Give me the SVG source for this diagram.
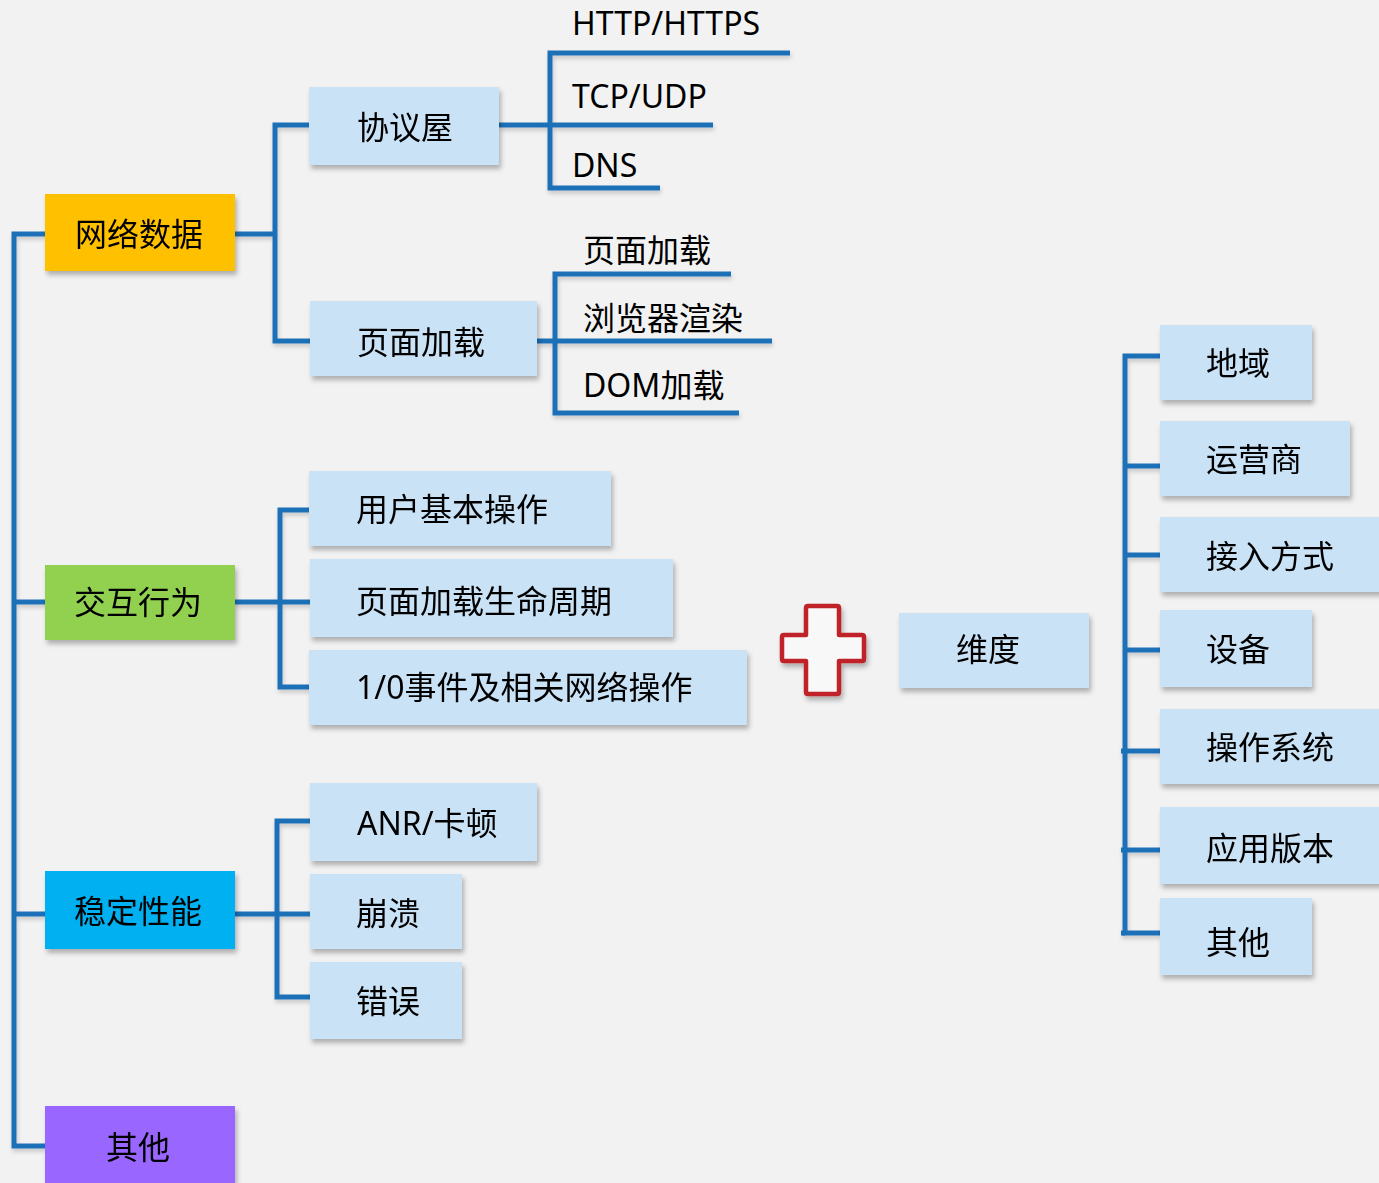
<svg xmlns="http://www.w3.org/2000/svg" width="1379" height="1183" viewBox="0 0 1379 1183">
<defs>
<filter id="sh" x="-10%" y="-20%" width="130%" height="150%">
<feDropShadow dx="2" dy="4" stdDeviation="2.5" flood-color="#000" flood-opacity="0.28"/>
</filter>
<filter id="lsh" x="-5%" y="-5%" width="110%" height="110%">
<feDropShadow dx="1" dy="3" stdDeviation="2" flood-color="#000" flood-opacity="0.18"/>
</filter>
<style>
.t{font-family:"Noto Sans","Noto Sans CJK SC",sans-serif;font-size:32px;fill:#000}
.sub{fill:#c9e2f6}
.ln{fill:none;stroke:#1e70b8;stroke-width:5;stroke-linejoin:miter}
</style>
</defs>
<rect x="0" y="0" width="1379" height="1183" fill="#f2f2f2"/>

<g id="connectors" class="ln" filter="url(#lsh)">
<path d="M45 234 H14 V1146 H45"/>
<path d="M14 602 H45"/>
<path d="M14 914 H45"/>
<path d="M235 234 H275"/>
<path d="M309 125 H275 V341 H310"/>
<path d="M499 125 H550"/>
<path d="M790 53 H550 V188 H660"/>
<path d="M550 125 H713"/>
<path d="M537 341 H555"/>
<path d="M731 274 H555 V413 H739"/>
<path d="M555 341 H772"/>
<path d="M235 602 H280"/>
<path d="M309 510 H280 V687 H309"/>
<path d="M280 602 H310"/>
<path d="M235 914 H277"/>
<path d="M310 821 H277 V997 H310"/>
<path d="M277 914 H310"/>
<path d="M1160 356 H1125 V933 H1160"/>
<path d="M1121 933 H1125"/>
<path d="M1125 466 H1160"/>
<path d="M1125 555 H1160"/>
<path d="M1125 650 H1160"/>
<path d="M1121 751 H1160"/>
<path d="M1121 850 H1160"/>
</g>

<g id="n-network" filter="url(#sh)"><rect x="45" y="194" width="190" height="77" fill="#ffc000"/><text class="t" x="75" y="246">网络数据</text></g>
<g id="n-protocol" filter="url(#sh)"><rect class="sub" x="309" y="87" width="190" height="78"/><text class="t" x="357" y="139">协议屋</text></g>
<g id="n-pageload" filter="url(#sh)"><rect class="sub" x="310" y="301" width="227" height="75"/><text class="t" x="357" y="354">页面加载</text></g>

<g id="n-http"><text class="t" x="572" y="35">HTTP/HTTPS</text></g>
<g id="n-tcp"><text class="t" x="572" y="108">TCP/UDP</text></g>
<g id="n-dns"><text class="t" x="572" y="177">DNS</text></g>
<g id="n-pageload2"><text class="t" x="583" y="262">页面加载</text></g>
<g id="n-render"><text class="t" x="583" y="330">浏览器渲染</text></g>
<g id="n-dom"><text class="t" x="583" y="397">DOM加载</text></g>

<g id="n-interact" filter="url(#sh)"><rect x="45" y="565" width="190" height="75" fill="#92d050"/><text class="t" x="74" y="614">交互行为</text></g>
<g id="n-userop" filter="url(#sh)"><rect class="sub" x="309" y="471" width="302" height="75"/><text class="t" x="356" y="521">用户基本操作</text></g>
<g id="n-lifecycle" filter="url(#sh)"><rect class="sub" x="310" y="559" width="363" height="78"/><text class="t" x="356" y="613">页面加载生命周期</text></g>
<g id="n-io" filter="url(#sh)"><rect class="sub" x="309" y="650" width="438" height="75"/><text class="t" x="356" y="699">1/0事件及相关网络操作</text></g>

<g id="n-stable" filter="url(#sh)"><rect x="45" y="871" width="190" height="78" fill="#00b0f0"/><text class="t" x="74" y="923">稳定性能</text></g>
<g id="n-anr" filter="url(#sh)"><rect class="sub" x="310" y="783" width="227" height="78"/><text class="t" x="357" y="835">ANR/卡顿</text></g>
<g id="n-crash" filter="url(#sh)"><rect class="sub" x="310" y="874" width="152" height="75"/><text class="t" x="356" y="925">崩溃</text></g>
<g id="n-error" filter="url(#sh)"><rect class="sub" x="310" y="962" width="152" height="77"/><text class="t" x="356" y="1013">错误</text></g>

<g id="n-other" filter="url(#sh)"><rect x="45" y="1106" width="190" height="90" fill="#9966ff"/><text class="t" x="106" y="1159">其他</text></g>

<g id="n-plus" filter="url(#sh)"><path d="M808 606 H837 Q839 606 839 608 V635 H862 Q864 635 864 637 V659 Q864 661 862 661 H839 V692 Q839 694 837 694 H808 Q806 694 806 692 V661 H784 Q782 661 782 659 V637 Q782 635 784 635 H806 V608 Q806 606 808 606 Z" fill="#f8f8f8" stroke="#c0202a" stroke-width="4.5" stroke-linejoin="round"/></g>

<g id="n-dim" filter="url(#sh)"><rect class="sub" x="899" y="613" width="190" height="75"/><text class="t" x="956" y="661">维度</text></g>

<g id="n-region" filter="url(#sh)"><rect class="sub" x="1160" y="325" width="152" height="75"/><text class="t" x="1206" y="375">地域</text></g>
<g id="n-carrier" filter="url(#sh)"><rect class="sub" x="1160" y="421" width="190" height="75"/><text class="t" x="1206" y="471">运营商</text></g>
<g id="n-access" filter="url(#sh)"><rect class="sub" x="1160" y="517" width="230" height="75"/><text class="t" x="1206" y="568">接入方式</text></g>
<g id="n-device" filter="url(#sh)"><rect class="sub" x="1160" y="610" width="152" height="77"/><text class="t" x="1206" y="661">设备</text></g>
<g id="n-os" filter="url(#sh)"><rect class="sub" x="1160" y="709" width="230" height="75"/><text class="t" x="1206" y="759">操作系统</text></g>
<g id="n-appver" filter="url(#sh)"><rect class="sub" x="1160" y="807" width="230" height="77"/><text class="t" x="1206" y="860">应用版本</text></g>
<g id="n-other2" filter="url(#sh)"><rect class="sub" x="1160" y="898" width="152" height="77"/><text class="t" x="1206" y="954">其他</text></g>
</svg>
